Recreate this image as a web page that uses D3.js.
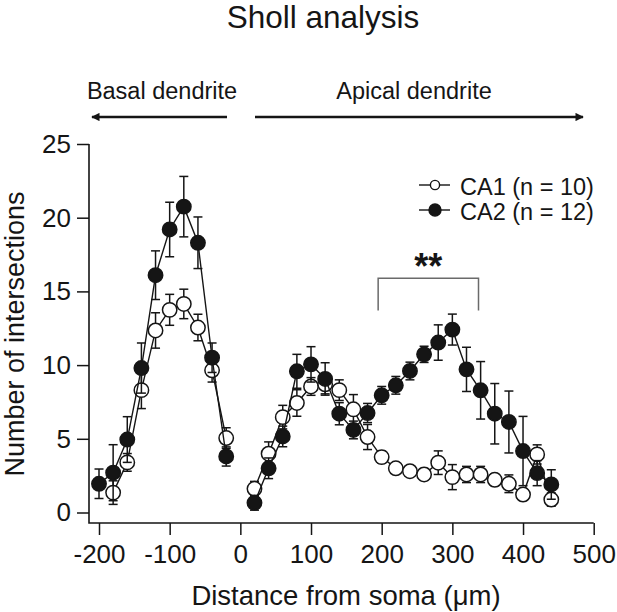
<!DOCTYPE html>
<html>
<head>
<meta charset="utf-8">
<script src="https://cdn.jsdelivr.net/npm/d3@7"></script>
<style>
  html, body { margin: 0; padding: 0; background: #fff; }
  svg { display: block; font-family: "Liberation Sans", Arial, Helvetica, sans-serif; }
</style>
</head>
<body>
<svg id="chart" width="617" height="612"></svg>
<script>
// ---------- data ----------
const basalX = [-200, -180, -160, -140, -120, -100, -80, -60, -40, -20];
const apicalX = [20, 40, 60, 80, 100, 120, 140, 160, 180, 200, 220, 240, 260, 280, 300, 320, 340, 360, 380, 400, 420, 440];

const ca1BasalX = [-180, -160, -140, -120, -100, -80, -60, -40, -20];
const ca1Basal = [1.35, 3.4, 8.3, 12.35, 13.75, 14.15, 12.55, 9.65, 5.05];
const ca1BasalSE = [0.8, 0.6, 1.25, 1.2, 1.05, 1.0, 0.9, 0.8, 0.7];

const ca2Basal = [1.95, 2.7, 4.95, 9.8, 16.1, 19.2, 20.75, 18.3, 10.5, 3.8];
const ca2BasalSE = [1.0, 1.9, 1.55, 1.7, 1.65, 1.85, 2.05, 1.75, 1.0, 0.65];

const ca1Apical = [1.61, 3.99, 6.47, 7.43, 8.55, 8.7, 8.3, 7.0, 5.12, 3.76, 3.0, 2.8, 2.58, 3.38, 2.4, 2.58, 2.58, 2.22, 1.95, 1.22, 3.94, 0.88];
const ca1ApicalSE = [0.5, 0.8, 0.8, 0.9, 0.6, 0.65, 0.7, 1.0, 0.85, 0.4, 0.3, 0.3, 0.4, 0.8, 0.85, 0.55, 0.55, 0.4, 0.6, 0.4, 0.65, 0.45];

const ca2Apical = [0.66, 3.0, 5.16, 9.58, 10.05, 9.06, 6.7, 5.6, 6.75, 7.95, 8.63, 9.6, 10.73, 11.53, 12.41, 9.71, 8.29, 6.7, 6.14, 4.17, 2.67, 1.9];
const ca2ApicalSE = [0.5, 0.7, 0.7, 1.15, 1.2, 1.1, 0.75, 0.6, 0.65, 0.6, 0.6, 0.6, 0.55, 1.2, 1.05, 1.5, 1.95, 2.05, 2.1, 2.35, 0.85, 1.0];

const xTicks = [-200, -100, 0, 100, 200, 300, 400, 500];
const yTicks = [0, 5, 10, 15, 20, 25];
const legendLabels = ["CA1 (n = 10)", "CA2 (n = 12)"];
const titleText = "Sholl analysis";
const xLabel = "Distance from soma (\u03bcm)";
const yLabel = "Number of intersections";
const basalLabel = "Basal dendrite";
const apicalLabel = "Apical dendrite";
const sigBracket = [195, 337];   // µm range of bracket
const sigLevels = [15.9, 13.7];  // bracket top / leg bottom (intersections)
const sigText = "**";

// ---------- layout ----------
const svg = d3.select("#chart");
const ink = "#151515";
const x = d3.scaleLinear().domain([-200, 500]).range([99, 593.7]);
const y = d3.scaleLinear().domain([0, 25]).range([512.5, 144]);
const axisX0 = 89, axisY0 = 523;

// title
svg.append("text").attr("x", 323).attr("y", 28).attr("text-anchor", "middle")
  .attr("font-size", 31.5).attr("fill", ink).text(titleText);

// dendrite annotations
svg.append("text").attr("x", 162).attr("y", 99.3).attr("text-anchor", "middle")
  .attr("font-size", 23.5).attr("fill", ink).text(basalLabel);
svg.append("text").attr("x", 414).attr("y", 99.3).attr("text-anchor", "middle")
  .attr("font-size", 23.5).attr("fill", ink).text(apicalLabel);

const defs = svg.append("defs");
defs.append("marker").attr("id", "ah").attr("viewBox", "0 0 10 10")
  .attr("refX", 9).attr("refY", 5).attr("markerWidth", 3.6).attr("markerHeight", 3.2)
  .attr("orient", "auto-start-reverse").attr("markerUnits", "strokeWidth")
  .append("path").attr("d", "M0,0 L10,5 L0,10 Z").attr("fill", ink);

svg.append("line").attr("x1", 227).attr("x2", 92).attr("y1", 117).attr("y2", 117)
  .attr("stroke", ink).attr("stroke-width", 2.6).attr("marker-end", "url(#ah)");
svg.append("line").attr("x1", 255).attr("x2", 583).attr("y1", 117).attr("y2", 117)
  .attr("stroke", ink).attr("stroke-width", 2.6).attr("marker-end", "url(#ah)");

// axes
const gx = svg.append("g").attr("transform", `translate(0,${axisY0})`)
  .call(d3.axisBottom(x).tickValues(xTicks).tickSize(12).tickPadding(10).tickFormat(d3.format("d")));
gx.select(".domain").remove();
gx.selectAll(".tick line").attr("stroke", ink).attr("stroke-width", 1.5);
gx.selectAll(".tick text").attr("font-size", 26).attr("fill", ink)
  .attr("font-family", "'Liberation Sans', Arial, sans-serif").text(d => d < 0 ? "-" + Math.abs(d) : d);

const gy = svg.append("g").attr("transform", `translate(${axisX0},0)`)
  .call(d3.axisLeft(y).tickValues(yTicks).tickSize(12).tickPadding(6));
gy.select(".domain").remove();
gy.selectAll(".tick line").attr("stroke", ink).attr("stroke-width", 1.5);
gy.selectAll(".tick text").attr("font-size", 26).attr("fill", ink)
  .attr("font-family", "'Liberation Sans', Arial, sans-serif");

svg.append("path")
  .attr("d", `M${axisX0},${y(25)}V${axisY0}H${x(500)}`)
  .attr("fill", "none").attr("stroke", ink).attr("stroke-width", 1.6);

// axis titles
svg.append("text").attr("x", 346).attr("y", 605).attr("text-anchor", "middle")
  .attr("font-size", 27.5).attr("fill", ink).text(xLabel);
svg.append("text").attr("transform", `translate(23.5,334) rotate(-90)`).attr("text-anchor", "middle")
  .attr("font-size", 27).attr("fill", ink).text(yLabel);

// ---------- series ----------
const line = d3.line().x(d => x(d[0])).y(d => y(d[1]));
const R = 7.2, CAP = 4.5;

function drawSeries(xs, ys, ses, filled) {
  const pts = xs.map((v, i) => [v, ys[i], ses[i]]);
  const g = svg.append("g");
  g.append("path").datum(pts).attr("d", line)
    .attr("fill", "none").attr("stroke", ink).attr("stroke-width", 1.4);
  const eb = g.append("g").attr("stroke", ink).attr("stroke-width", 1.5);
  pts.forEach(p => {
    const cx = x(p[0]), y1 = y(p[1] + p[2]), y2 = y(p[1] - p[2]);
    eb.append("line").attr("x1", cx).attr("x2", cx).attr("y1", y1).attr("y2", y2);
    eb.append("line").attr("x1", cx - CAP).attr("x2", cx + CAP).attr("y1", y1).attr("y2", y1);
    eb.append("line").attr("x1", cx - CAP).attr("x2", cx + CAP).attr("y1", y2).attr("y2", y2);
  });
  g.selectAll("circle").data(pts).join("circle")
    .attr("cx", d => x(d[0])).attr("cy", d => y(d[1])).attr("r", R)
    .attr("fill", filled ? ink : "#fff").attr("stroke", ink).attr("stroke-width", 1.5);
}

drawSeries(ca1BasalX, ca1Basal, ca1BasalSE, false);
drawSeries(apicalX, ca1Apical, ca1ApicalSE, false);
drawSeries(basalX, ca2Basal, ca2BasalSE, true);
drawSeries(apicalX, ca2Apical, ca2ApicalSE, true);

// ---------- legend ----------
const legend = svg.append("g");
[[185, false, 4.6], [210, true, 6]].forEach((row, i) => {
  const ly = row[0];
  legend.append("line").attr("x1", 419).attr("x2", 450).attr("y1", ly).attr("y2", ly)
    .attr("stroke", ink).attr("stroke-width", 1.4);
  legend.append("circle").attr("cx", 435).attr("cy", ly).attr("r", row[2])
    .attr("fill", row[1] ? ink : "#fff").attr("stroke", ink).attr("stroke-width", 1.4);
  legend.append("text").attr("x", 460).attr("y", ly + 10).attr("font-size", 23.5)
    .attr("fill", ink).text(legendLabels[i]);
});

// ---------- significance bracket ----------
const bx1 = x(sigBracket[0]), bx2 = x(sigBracket[1]);
svg.append("path")
  .attr("d", `M${bx1},${y(sigLevels[1])}V${y(sigLevels[0])}H${bx2}V${y(sigLevels[1])}`)
  .attr("fill", "none").attr("stroke", "#6a6a6a").attr("stroke-width", 1.5);
svg.append("text").attr("x", (bx1 + bx2) / 2).attr("y", 279).attr("text-anchor", "middle")
  .attr("font-size", 36).attr("font-weight", "bold").attr("fill", ink).text(sigText);
</script>
</body>
</html>
